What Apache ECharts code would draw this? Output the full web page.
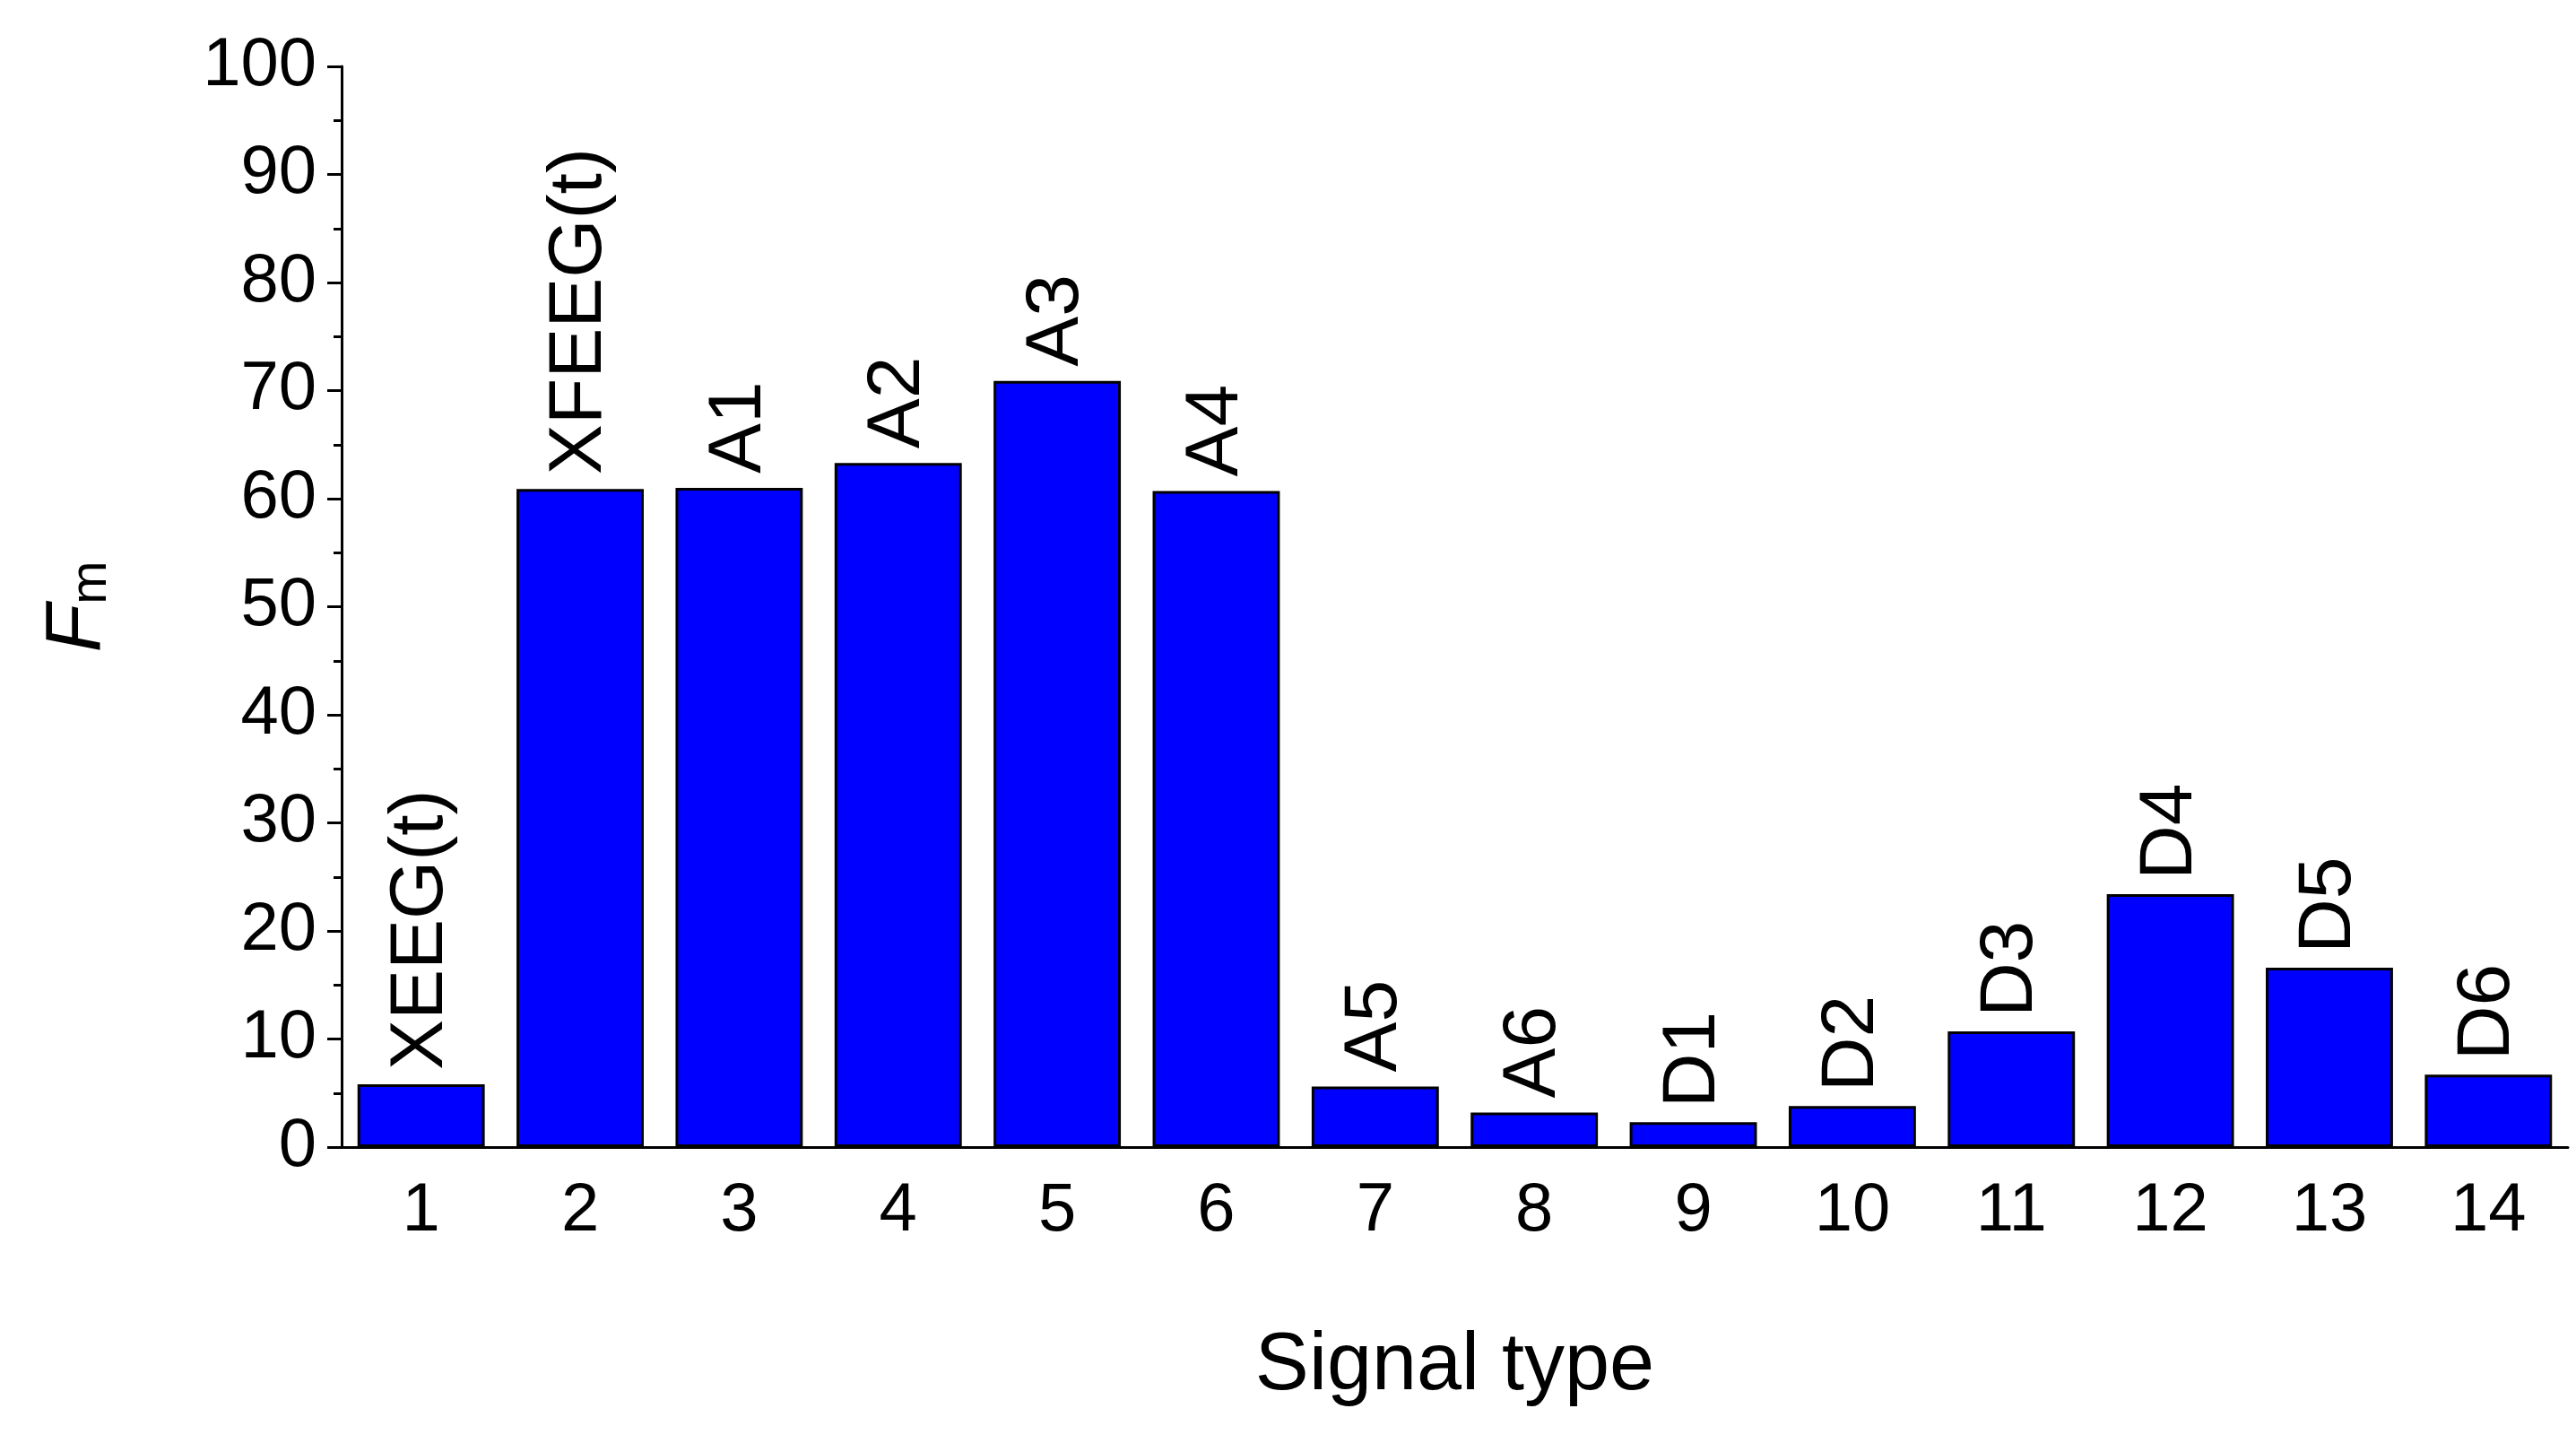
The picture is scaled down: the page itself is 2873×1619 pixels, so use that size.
<!DOCTYPE html>
<html><head><meta charset="utf-8">
<script src="https://cdn.jsdelivr.net/npm/echarts@6/dist/echarts.min.js"></script>
<style>html,body{margin:0;background:#fff}#c{width:2873px;height:1619px}</style>
</head><body><div id="c"></div>
<script>
// 数据
var categories = ['1','2','3','4','5','6','7','8','9','10','11','12','13','14'];
var values = [5.8, 60.9, 61, 63.3, 70.9, 60.7, 5.6, 3.2, 2.3, 3.8, 10.7, 23.4, 16.6, 6.7];
var barLabels = ['XEEG(t)','XFEEG(t)','A1','A2','A3','A4','A5','A6','D1','D2','D3','D4','D5','D6'];

var font = 'Liberation Sans, Arial, sans-serif';
var chart = echarts.init(document.getElementById('c'));
chart.setOption({
  backgroundColor: '#fff',
  animation: false,
  grid: {left: 381, right: 9, top: 74, bottom: 340},
  xAxis: {
    type: 'category', data: categories,
    name: 'Signal type', nameLocation: 'middle', nameGap: 200,
    nameTextStyle: {fontSize: 90, fontFamily: font, color: '#000'},
    axisLine: {lineStyle: {color: '#000', width: 3}},
    axisTick: {alignWithLabel: true, inside: false, length: 16, lineStyle: {color: '#000', width: 3}},
    axisLabel: {fontSize: 76, fontFamily: font, color: '#000', margin: 34}
  },
  yAxis: {
    type: 'value', min: 0, max: 100, interval: 10,
    name: '{f|F}{m|m}', nameLocation: 'middle', nameGap: 250, nameRotate: 90,
    nameTextStyle: {rich: {
      f: {fontSize: 88, fontStyle: 'italic', fontFamily: font, color: '#000'},
      m: {fontSize: 58, fontFamily: font, color: '#000', padding: [30, 0, 0, 0]}
    }},
    splitLine: {show: false},
    axisLine: {show: true, lineStyle: {color: '#000', width: 3}},
    axisTick: {show: true, length: 16, lineStyle: {color: '#000', width: 3}},
    minorTick: {show: true, splitNumber: 2, length: 9, lineStyle: {color: '#000', width: 3}},
    axisLabel: {fontSize: 76, fontFamily: font, color: '#000', margin: 28}
  },
  series: [{
    type: 'bar',
    data: values,
    barCategoryGap: '20%',
    itemStyle: {color: '#0000ff', borderColor: '#000', borderWidth: 3},
    label: {
      show: true, position: 'top', rotate: 90, align: 'left', verticalAlign: 'middle',
      distance: 16, fontSize: 84, fontFamily: font, color: '#000',
      formatter: function (p) { return barLabels[p.dataIndex]; }
    }
  }]
});
</script></body></html>
